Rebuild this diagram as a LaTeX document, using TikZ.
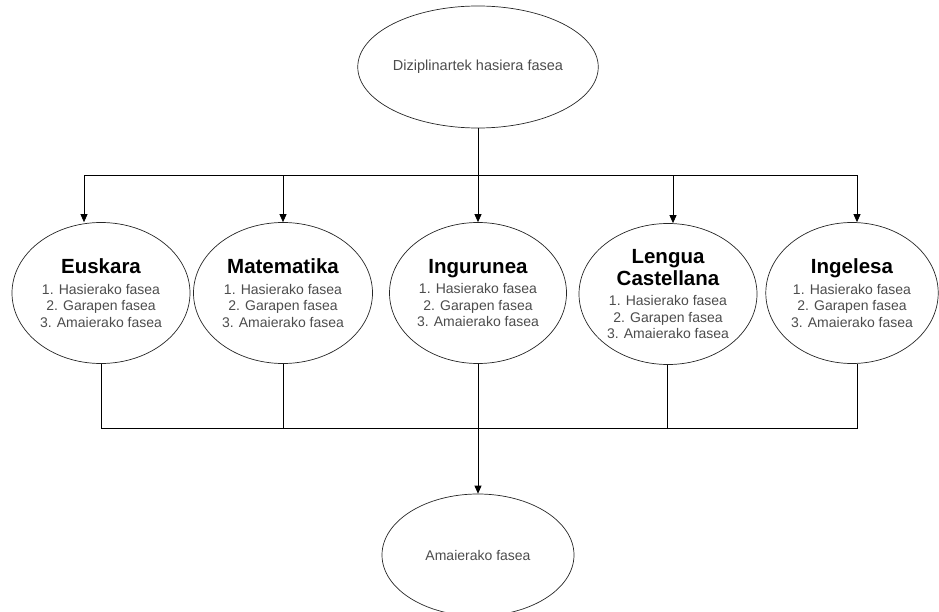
\documentclass[tikz,border=0pt]{standalone}
\usepackage{fontspec}
\setmainfont{Liberation Sans}
\usetikzlibrary{arrows.meta, shapes.geometric}

\newcommand{\fasetitle}{\color{black}\bfseries\fontsize{20.5}{24}\selectfont}
\newcommand{\fasefont}{\fontsize{14}{16.5}\selectfont}
\newcommand{\faselist}{\fasefont 1. Hasierako fasea\\ \fasefont 2. Garapen fasea\\ \fasefont 3. Amaierako fasea}

\begin{document}
\begin{tikzpicture}[x=1pt,y=-1pt,->,>={Triangle[length=8pt,width=7pt]},line width=0.8pt,
 phase node/.style={ellipse,draw=black!85,line width=0.7pt,align=center,inner sep=0pt,
   minimum width=178pt,minimum height=141pt,font=\fasefont,text=black!70},
 end node/.style={ellipse,draw=black!85,line width=0.7pt,inner sep=0pt,
   minimum width=192pt,minimum height=122pt,text=black!70}]
\useasboundingbox (0,0) rectangle (939,612);
\node[end node,font=\fontsize{14.5}{16}\selectfont](start) at (478,67) {Diziplinartek hasiera fasea};
\foreach \s/\x/\w/\t in {eus/101/178/Euskara, mat/283/179/Matematika, ing/478/177/Ingurunea, eng/852/170/Ingelesa}{
    \node[phase node,minimum width=\w pt](\s) at (\x,293) {\fasetitle \t\\[4pt]\faselist};}
\node[phase node](cas) at (668,294) {\fasetitle Lengua\\[2pt]\fasetitle Castellana\\[4pt]\faselist};
\node[end node,font=\fasefont](end) at (478,555) {Amaierako fasea};

\coordinate (split) at (478,175);
\coordinate (join) at (478,428);
\draw[-] (start) -- (split);
\draw (split) -| ([xshift=-17pt]eus.north);
\draw (split) -| (mat.north);
\draw (split) -- (ing.north);
\draw (split) -| ([xshift=5pt]cas.north);
\draw (split) -| ([xshift=5pt]eng.north);
\draw[-] (eus.south) |- (join);
\draw[-] (mat.south) |- (join);
\draw[-] (ing.south) |- (join);
\draw[-] ([xshift=-1pt]cas.south) |- (join);
\draw[-] ([xshift=5pt]eng.south) |- (join);
\draw (join) -- (end);
\end{tikzpicture}
\end{document}
